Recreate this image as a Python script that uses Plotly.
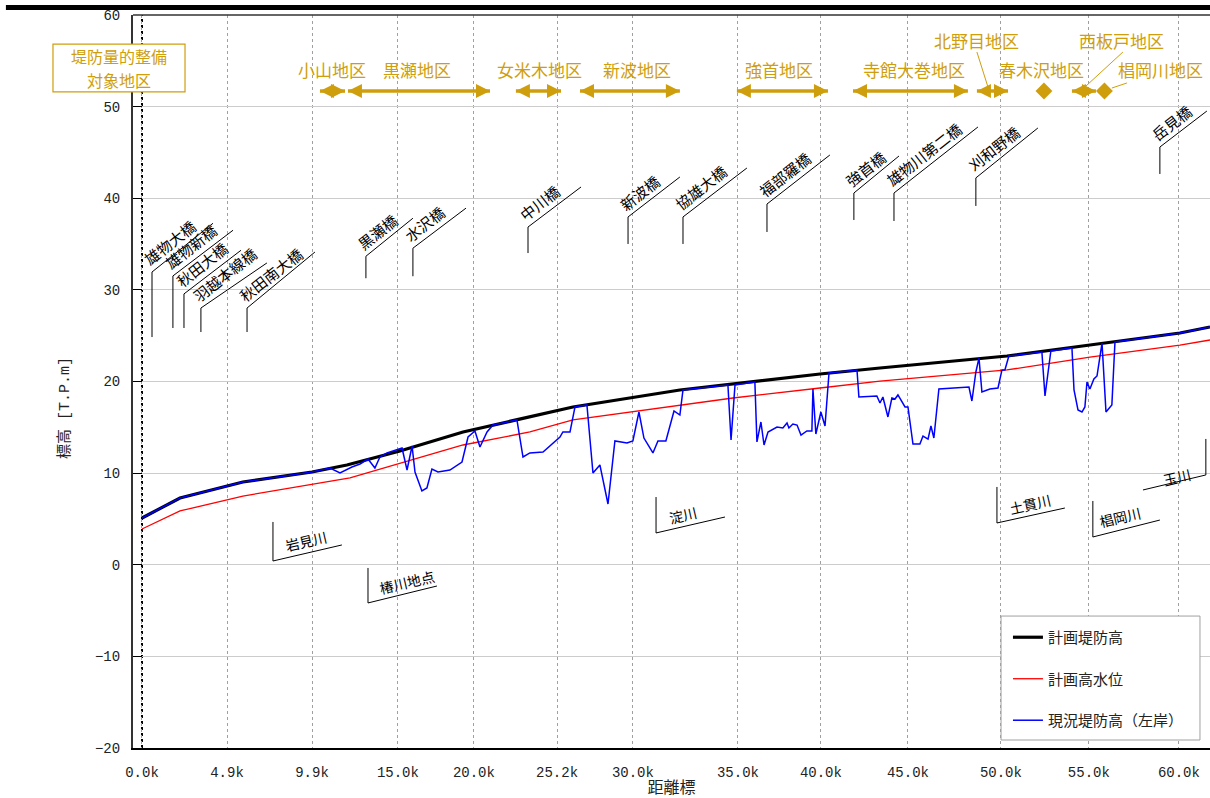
import math
import plotly.graph_objects as go

# 図上の距離位置（km 相当）と標高 [T.P.m]
pos_levee = [0.00, 2.20, 5.84, 9.84, 11.86, 14.93, 18.58, 22.45, 24.94, 31.13,
             34.20, 39.24, 42.71, 50.06, 54.86, 60.07, 61.81]
plan_levee = [5.10, 7.29, 9.03, 10.12, 10.89, 12.41, 14.49, 16.13, 17.22, 19.07,
              19.73, 20.82, 21.47, 22.78, 23.98, 25.29, 25.95]

pos_hwl = [0.00, 2.20, 5.84, 12.04, 18.58, 22.45, 24.94, 31.13, 34.20, 39.24,
           42.71, 50.06, 54.86, 60.07, 61.81]
plan_hwl = [3.90, 5.87, 7.50, 9.47, 13.07, 14.49, 15.80, 17.44, 18.20, 19.29,
            20.05, 21.26, 22.67, 23.98, 24.53]

pos_now = [0.00, 2.20, 5.84, 9.84, 10.88, 11.46, 12.15, 12.62, 13.08, 13.48,
           13.77, 14.18, 15.05, 15.34, 15.63, 15.80, 16.20, 16.49, 16.78, 17.13,
           17.82, 18.52, 18.87, 19.27, 19.56, 19.97, 20.31, 21.70, 22.05, 22.45,
           23.21, 23.73, 24.19, 24.36, 24.77, 25.06, 25.75, 26.10, 26.50, 26.97,
           27.37, 28.07, 28.41, 28.76, 29.05, 29.57, 29.86, 30.32, 30.79, 31.13,
           31.31, 33.91, 34.09, 34.32, 35.47, 35.59, 35.82, 36.00, 36.23, 36.75,
           37.09, 37.33, 37.44, 37.67, 37.91, 38.14, 38.48, 38.77, 38.83, 39.00,
           39.29, 39.53, 39.76, 41.38, 41.49, 42.53, 42.71, 42.88, 43.17, 43.40,
           43.58, 43.75, 44.16, 44.33, 44.62, 45.02, 45.20, 45.49, 45.66, 45.83,
           46.12, 47.86, 48.03, 48.26, 48.44, 48.61, 49.07, 49.54, 49.77, 49.94,
           50.17, 52.08, 52.26, 52.60, 53.82, 53.94, 54.17, 54.40, 54.57, 54.69,
           54.86, 55.09, 55.27, 55.56, 55.79, 56.13, 56.31, 60.07, 61.81]
now_levee = [5.10, 7.29, 9.03, 10.12, 10.56, 10.01, 10.67, 11.00, 11.54, 10.56,
             11.76, 12.20, 12.74, 10.34, 12.96, 10.12, 8.05, 8.38, 10.45, 10.12,
             10.34, 11.21, 13.94, 14.60, 12.85, 14.49, 15.25, 15.80, 11.76, 12.20,
             12.31, 13.18, 13.94, 14.49, 14.49, 17.22, 17.44, 10.01, 10.89, 6.63,
             13.51, 13.29, 13.51, 16.67, 13.83, 12.20, 13.51, 13.51, 16.78, 16.34,
             19.07, 19.62, 13.62, 19.62, 19.95, 13.40, 15.58, 13.07, 14.49, 15.03,
             14.93, 15.47, 14.93, 15.36, 15.25, 14.16, 14.60, 14.60, 19.18, 14.27,
             16.67, 15.14, 20.93, 21.26, 18.31, 18.42, 17.65, 18.31, 16.13, 18.20,
             18.09, 18.53, 17.22, 17.22, 13.18, 13.18, 14.05, 13.72, 15.14, 13.83,
             19.18, 19.40, 17.87, 21.04, 22.56, 18.85, 19.18, 19.29, 21.26, 21.26,
             22.78, 23.22, 18.42, 23.33, 23.66, 19.07, 16.89, 16.67, 17.22, 19.95,
             19.18, 20.27, 20.60, 24.20, 16.67, 17.44, 24.31, 25.29, 25.95]

tick_pos = [0.00, 4.92, 9.84, 14.81, 19.21, 24.02, 28.41, 34.49, 39.29, 44.33,
            49.71, 54.80, 60.01]
tick_labels = ["0.0k", "4.9k", "9.9k", "15.0k", "20.0k", "25.2k", "30.0k",
               "35.0k", "40.0k", "45.0k", "50.0k", "55.0k", "60.0k"]

# 橋梁: 名称, 位置, 引出線の下端・折れ点, 斜線の終点
bridge_names = ["雄物大橋", "雄物新橋", "秋田大橋", "羽越本線橋", "秋田南大橋", "黒瀬橋",
                "水沢橋", "中川橋", "新波橋", "協雄大橋", "福部羅橋", "強首橋",
                "雄物川第二橋", "刈和野橋", "岳見橋"]
bridge_pos = [0.58, 1.79, 2.43, 3.41, 6.08, 12.96, 15.68, 22.34, 28.13, 31.31,
              36.17, 41.20, 43.52, 48.26, 58.91]
bridge_base = [24.85, 25.84, 25.84, 25.40, 25.40, 31.27, 31.49, 34.02, 35.01, 35.01,
               36.32, 37.63, 37.52, 39.16, 42.65]
bridge_knee = [31.95, 31.52, 29.56, 28.02, 28.02, 33.67, 34.55, 36.86, 37.96, 37.96,
               39.37, 40.57, 40.57, 42.22, 45.59]
bridge_end_pos = [4.11, 5.27, 5.73, 7.23, 10.01, 15.68, 18.75, 25.41, 31.13, 35.01,
                  39.81, 43.81, 48.38, 51.85, 61.63]
bridge_end_y = [37.27, 36.51, 34.32, 32.94, 34.13, 37.82, 38.92, 41.23, 42.32, 43.30,
                44.72, 44.61, 47.78, 47.67, 49.52]

# 支川・地点
river_names = ["岩見川", "椿川地点", "淀川", "土貫川", "椙岡川", "玉川"]
river_pos = [7.58, 13.08, 29.75, 49.48, 55.03, 61.57]
river_top = [4.67, -0.35, 7.39, 8.49, 6.96, 13.73]
river_bottom = [0.41, -4.17, 3.47, 4.56, 3.03, 9.80]
river_end_pos = [11.57, 17.07, 33.74, 53.41, 58.91, 57.93]
river_end_y = [2.16, -2.32, 5.21, 6.19, 4.88, 8.16]
river_shift = [(33, 20), (39, 21), (27, 18), (33, 19), (27, 20), (-29, -2)]

# 堤防量的整備対象地区
district_names = ["小山地区", "黒瀬地区", "女米木地区", "新波地区", "強首地区", "寺館大巻地区",
                  "北野目地区", "春木沢地区", "西板戸地区", "椙岡川地区"]
district_from = [10.30, 11.92, 21.64, 25.35, 34.43, 41.15, 48.32, 51.85, 53.82, 55.32]
district_to = [11.75, 20.14, 24.25, 31.13, 39.70, 47.80, 50.12, 52.55, 55.21, 56.08]
district_label_pos = [11.00, 15.91, 23.03, 28.65, 36.86, 44.68, 48.32, 52.03, 56.71, 58.97]
district_row = [1, 1, 1, 1, 1, 1, 2, 1, 2, 1]

GOLD = "#CF9E0C"
CJK = "Noto Sans CJK JP"
MONO = "Liberation Mono, Noto Sans CJK JP"

fig = go.Figure()
fig.add_trace(go.Scatter(x=pos_levee, y=plan_levee, mode="lines", name="計画堤防高",
                         line=dict(color="black", width=3.2), legendgroup="a"))
fig.add_trace(go.Scatter(x=pos_hwl, y=plan_hwl, mode="lines", name="計画高水位",
                         line=dict(color="#ff0000", width=1.3), legendgroup="b"))
fig.add_trace(go.Scatter(x=pos_now, y=now_levee, mode="lines", name="現況堤防高（左岸）",
                         line=dict(color="#0000ff", width=1.5), legendgroup="c"))

shapes = []
annotations = []

# 橋梁の引出線と名称
ang = math.radians(38)
for name, x, yb, yk, xe, ye in zip(bridge_names, bridge_pos, bridge_base, bridge_knee,
                                   bridge_end_pos, bridge_end_y):
    shapes.append(dict(type="line", x0=x, y0=yb, x1=x, y1=yk, line=dict(color="black", width=1)))
    shapes.append(dict(type="line", x0=x, y0=yk, x1=xe, y1=ye, line=dict(color="black", width=1)))
    along = len(name) * 7.5 + 2
    perp = 12
    annotations.append(dict(x=x, y=yk, text=name, showarrow=False, textangle=-38,
                            xanchor="center", yanchor="middle",
                            xshift=math.cos(ang) * along - math.sin(ang) * perp,
                            yshift=math.sin(ang) * along + math.cos(ang) * perp,
                            font=dict(family=CJK, size=15, color="black")))

# 支川の引出線と名称
for name, x, yt, yb, xe, ye, (sx, sy) in zip(river_names, river_pos, river_top, river_bottom,
                                             river_end_pos, river_end_y, river_shift):
    shapes.append(dict(type="line", x0=x, y0=yt, x1=x, y1=yb, line=dict(color="black", width=1)))
    shapes.append(dict(type="line", x0=x, y0=yb, x1=xe, y1=ye, line=dict(color="black", width=1)))
    annotations.append(dict(x=x, y=yb, text=name, showarrow=False, textangle=-13,
                            xanchor="center", yanchor="middle", xshift=sx, yshift=sy,
                            font=dict(family=CJK, size=14, color="black")))

# 地区の範囲矢印と名称
Y_ARROW = 51.70
Y_ROW = {1: 54.0, 2: 57.27}
for name, x0, x1, xl, row in zip(district_names, district_from, district_to,
                                 district_label_pos, district_row):
    if x1 - x0 < 1.0:
        # 区間が短いものは菱形で表示
        fig.add_trace(go.Scatter(x=[(x0 + x1) / 2], y=[Y_ARROW], mode="markers",
                                 marker=dict(symbol="diamond", size=13, color=GOLD,
                                             line=dict(width=0)),
                                 showlegend=False, hoverinfo="skip"))
    else:
        fig.add_trace(go.Scatter(x=[x0, x1], y=[Y_ARROW, Y_ARROW], mode="lines+markers",
                                 line=dict(color=GOLD, width=3.5),
                                 marker=dict(symbol=["arrow-left", "arrow-right"], size=14,
                                             color=GOLD, line=dict(width=0)),
                                 showlegend=False, hoverinfo="skip"))
    annotations.append(dict(x=xl, y=Y_ROW[row], text=name, showarrow=False,
                            xanchor="center", yanchor="middle",
                            font=dict(family=CJK, size=17, color=GOLD)))

# 上段ラベルの引出線
for x0, y0, x1, y1 in [(48.32, 55.96, 48.96, 52.14), (56.77, 55.96, 54.57, 52.14),
                       (57.00, 52.58, 56.13, 52.03)]:
    shapes.append(dict(type="line", x0=x0, y0=y0, x1=x1, y1=y1,
                       line=dict(color=GOLD, width=1)))

# 枠線
shapes.append(dict(type="line", xref="x", yref="paper", x0=0, x1=0, y0=0, y1=1,
                   line=dict(color="black", width=2, dash="dot"), layer="below"))
shapes.append(dict(type="line", xref="paper", yref="paper", x0=0, x1=1, y0=1, y1=1,
                   line=dict(color="#333333", width=1.5)))
shapes.append(dict(type="line", xref="paper", yref="paper", x0=-0.118, x1=1,
                   y0=1.0102, y1=1.0102, line=dict(color="black", width=5)))
# 凡例の枠
shapes.append(dict(type="rect", xref="paper", yref="paper", x0=0.806, x1=0.9907,
                   y0=0.0109, y1=0.180, fillcolor="white",
                   line=dict(color="#a0a0a0", width=1), layer="above"))
# 「堤防量的整備対象地区」の枠
shapes.append(dict(type="rect", xref="paper", yref="paper", x0=-0.0743, x1=0.0483,
                   y0=0.895, y1=0.9604, fillcolor="white",
                   line=dict(color=GOLD, width=1.2), layer="above"))

for text, yy in [("堤防量的整備", 0.9441), ("対象地区", 0.9113)]:
    annotations.append(dict(xref="paper", yref="paper", x=-0.013, y=yy,
                            xanchor="center", yanchor="middle", text=text,
                            showarrow=False, font=dict(family=CJK, size=16, color=GOLD)))
annotations.append(dict(xref="paper", yref="paper", x=-0.0631, y=0.464,
                        xanchor="center", yanchor="middle",
                        text="標高 [T.P.m]", showarrow=False, textangle=-90,
                        font=dict(family=MONO, size=15, color="#222222")))

fig.update_layout(
    width=1210, height=798,
    margin=dict(l=133, r=0, t=15, b=50),
    paper_bgcolor="white", plot_bgcolor="white",
    font=dict(family=CJK, size=15, color="#222222"),
    shapes=shapes, annotations=annotations,
    legend=dict(x=0.8124, y=0.1733, xanchor="left", yanchor="top",
                bgcolor="rgba(0,0,0,0)", borderwidth=0,
                tracegroupgap=19, font=dict(family=CJK, size=15, color="#222222")),
    xaxis=dict(range=[-0.52, 61.81], tickvals=tick_pos, ticktext=tick_labels,
               showgrid=True, gridcolor="#a0a0a0", griddash="dot", gridwidth=1,
               showline=True, linecolor="black", linewidth=2, zeroline=False,
               ticks="", ticklabelstandoff=10,
               tickfont=dict(family=MONO, size=14, color="#222222"),
               title=dict(text="距離標", standoff=2,
                          font=dict(family=CJK, size=16, color="#222222"))),
    yaxis=dict(range=[-20, 60], dtick=10, showgrid=True, gridcolor="#cccccc",
               showline=True, linecolor="#333333", linewidth=2, zeroline=False,
               ticks="inside", ticklen=9, tickcolor="black", ticklabelstandoff=8,
               tickfont=dict(family=MONO, size=14, color="#222222")),
)

fig.write_html("out.html", config={"displayModeBar": False},
               post_script="document.body.style.margin='0';")
